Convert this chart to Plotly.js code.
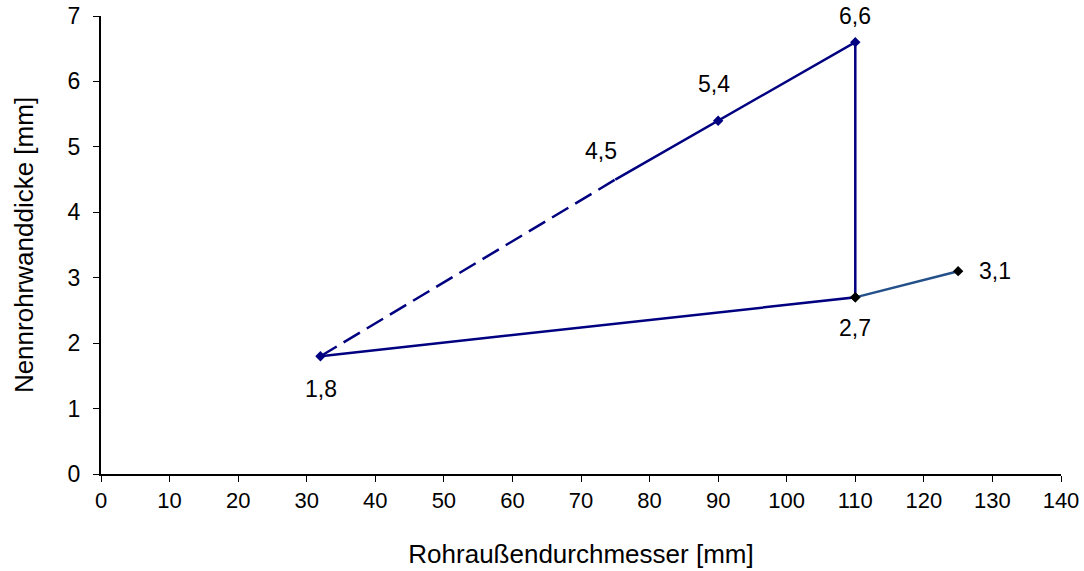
<!DOCTYPE html>
<html>
<head>
<meta charset="utf-8">
<script src="https://cdn.plot.ly/plotly-3.0.1.min.js"></script>
<style>html,body{margin:0;padding:0;background:#fff}#chart{width:1084px;height:571px}</style>
</head>
<body>
<div id="chart"></div>
<script>
// Data
const dashedX = [32, 75];
const dashedY = [1.8, 4.5];
const mainX = [75, 90, 110, 110, 32];
const mainY = [4.5, 5.4, 6.6, 2.7, 1.8];
const extX = [110, 125];
const extY = [2.7, 3.1];
const labelX = [32, 75, 90, 110, 110, 125];
const labelY = [1.8, 4.5, 5.4, 6.6, 2.7, 3.1];
const labelText = ['1,8', '4,5', '5,4', '6,6', '2,7', '3,1'];
const xTicks = [0,10,20,30,40,50,60,70,80,90,100,110,120,130,140];
const yTicks = [0,1,2,3,4,5,6,7];

const navy = '#000080';
const labelShift = [[1,-33],[-14,29],[-4,37],[0,26],[0,-31],[37,0]];
const FONT = 'Liberation Sans, Arial, sans-serif';

const traces = [
  {x: dashedX, y: dashedY, mode: 'lines', line: {color: navy, width: 2.5, dash: '19px,8px'}, hoverinfo: 'skip'},
  {x: mainX, y: mainY, mode: 'lines+markers', line: {color: navy, width: 2.5},
   marker: {symbol: 'diamond', size: [0, 8, 8, 8, 8], opacity: 1,
            color: [navy, navy, navy, '#000000', navy], line: {width: 0}}},
  {x: extX, y: extY, mode: 'lines+markers', line: {color: '#24508A', width: 2.5},
   marker: {symbol: 'diamond', size: 8, opacity: 1, color: '#000000', line: {width: 0}}}
];

const annotations = labelText.map((t, i) => ({
  x: labelX[i], y: labelY[i], text: t, showarrow: false,
  xshift: labelShift[i][0], yshift: labelShift[i][1],
  font: {family: FONT, size: 23, color: '#000'}
}));

const layout = {
  width: 1084, height: 571,
  margin: {l: 101, r: 23, t: 16, b: 97},
  paper_bgcolor: '#fff', plot_bgcolor: '#fff',
  showlegend: false,
  font: {family: FONT, size: 22, color: '#000'},
  xaxis: {range: [0, 140], tickvals: xTicks, ticktext: xTicks.map(String), showgrid: false, zeroline: false,
          automargin: false,
          tickfont: {family: 'Liberation Sans Narrow, Arial Narrow, Liberation Sans, sans-serif', size: 22},
          showline: true, linecolor: '#000', linewidth: 2, ticks: 'outside', ticklen: 6, tickcolor: '#000', tickwidth: 1,
          title: {text: 'Rohraußendurchmesser [mm]', font: {family: FONT, size: 26}, standoff: 32}},
  yaxis: {range: [0, 7], tickvals: yTicks, ticktext: yTicks.map(String), showgrid: false, zeroline: false,
          automargin: false, ticklabelstandoff: 8,
          tickfont: {family: FONT, size: 23},
          showline: true, linecolor: '#000', linewidth: 2, ticks: 'outside', ticklen: 6, tickcolor: '#000', tickwidth: 1,
          title: {text: 'Nennrohrwanddicke [mm]', font: {family: FONT, size: 26}, standoff: 27}},
  annotations: annotations
};

Plotly.newPlot('chart', traces, layout, {displayModeBar: false, staticPlot: true});
</script>
</body>
</html>
